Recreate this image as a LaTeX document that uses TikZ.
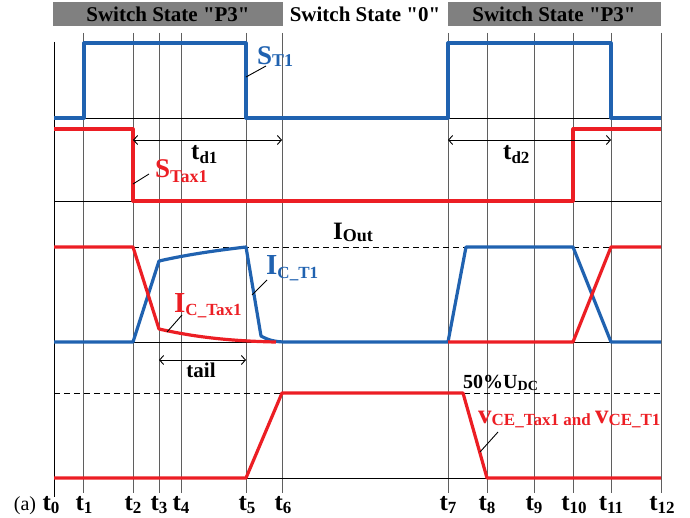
\documentclass[tikz,border=0pt]{standalone}
\usepackage{fontspec}
\setmainfont{Liberation Serif}
\usetikzlibrary{arrows.meta}
\definecolor{wblue}{RGB}{32,98,176}
\definecolor{wred}{RGB}{236,30,36}
\definecolor{gridc}{RGB}{95,95,95}
\definecolor{hdr}{RGB}{128,128,128}
\newcommand\fs[1]{\fontsize{#1bp}{#1bp}\selectfont}
\newcommand\lo[3]{\raisebox{-#1bp}{\fs{#2}#3}}
\begin{document}
\begin{tikzpicture}[x=1bp,y=-1bp,
  gridln/.style={gridc, line width=0.7bp},
  baseln/.style={black, line width=0.8bp},
  wave/.style={line width=3.2bp, line join=round},
  lab/.style={font=\bfseries, inner sep=0pt},
  lead/.style={black, line width=0.9bp},
  dimarr/.style={{Straight Barb[length=4bp,width=9bp]}-{Straight Barb[length=4bp,width=9bp]}, line width=0.9bp},
  dashln/.style={black, line width=0.9bp, dash pattern=on 6bp off 4bp},
  hdrbox/.style={fill=hdr, draw=none}]
\useasboundingbox (0,0) rectangle (690,518);
% header
\fill[hdrbox] (53,2) rectangle (283,26);
\fill[hdrbox] (448,2) rectangle (661,26);
\node[lab, anchor=base] (h1) at (168,22) {\fs{21}Switch State \textquotedbl P3\textquotedbl};
\node[lab, anchor=base] (h2) at (365,22) {\fs{21}Switch State \textquotedbl 0\textquotedbl};
\node[lab, anchor=base] (h3) at (554,22) {\fs{21}Switch State \textquotedbl P3\textquotedbl};
% grid lines
\foreach \x in {83,133,159,181,246,282,448,487,534,573,611,661}
  \draw[gridln] (\x,33) -- (\x,493);
\draw[black, line width=1bp] (54,42) -- (54,497);
% baselines
\foreach \y in {118,201,342,478}
  \draw[baseln] (54,\y) -- (661,\y);
% dashed references
\draw[dashln] (133,247) -- (611,247);
\draw[dashln] (54,393) -- (661,393);
% S_T1
\draw[wave, wblue] (54,118) -- (84,118) -- (84,43) -- (246,43) -- (246,118) -- (448,118) -- (448,43) -- (611,43) -- (611,118) -- (661,118);
% S_Tax1
\draw[wave, wred] (54,129) -- (133,129) -- (133,201) -- (573,201) -- (573,129) -- (661,129);
% I_C_T1
\draw[wave, wblue] (54,342) -- (133,342) -- (159,261) .. controls (190,254) and (220,250) .. (246,247) -- (261,336) .. controls (268,340) and (275,342) .. (286,342) -- (448,342) -- (466,247) -- (573,247) -- (611,342) -- (661,342);
% I_C_Tax1
\draw[wave, wred] (54,247) -- (133,247) -- (159,329) .. controls (190,336) and (225,341) .. (276,342);
\draw[wave, wred] (448,342) -- (573,342) -- (611,247) -- (661,247);
% v_CE
\draw[wave, wred] (54,478) -- (246,478) -- (282,393) -- (463,393) -- (487,478) -- (661,478);
% dimension arrows
\coordinate (d1a) at (133,140); \coordinate (d1b) at (282,140);
\coordinate (d2a) at (448,140); \coordinate (d2b) at (611,140);
\coordinate (tla) at (159,360); \coordinate (tlb) at (246,360);
\draw[dimarr] (d1a) -- (d1b);
\draw[dimarr] (d2a) -- (d2b);
\draw[dimarr] (tla) -- (tlb);
\node[lab, anchor=base west] (td1) at (191,160) {\fs{25}t\lo{4}{17}{d1}};
\node[lab, anchor=base west] (td2) at (503,160) {\fs{25}t\lo{4}{17}{d2}};
\node[lab, anchor=base] (tail) at (201,377) {\fs{21}tail};
% labels
\node[lab, wblue, anchor=base west] (st1) at (257,65) {\fs{27}S\lo{2}{18}{T1}};
\coordinate (st1p) at (246,77); \coordinate (st1q) at (266,66);
\draw[lead] (st1p) -- (st1q);
\node[lab, wred, anchor=base west] (stax) at (155,178) {\fs{27}S\lo{5}{18}{Tax1}};
\coordinate (staxp) at (133,184); \coordinate (staxq) at (149,174);
\draw[lead] (staxp) -- (staxq);
\node[lab, anchor=base west] (iout) at (333,240) {\fs{25}I\lo{2}{18}{Out}};
\node[lab, wblue, anchor=base west] (ict1) at (266,275) {\fs{29}I\lo{3}{17}{C\_T1}};
\coordinate (ict1p) at (252,295); \coordinate (ict1q) at (267,280);
\draw[lead] (ict1p) -- (ict1q);
\node[lab, wred, anchor=base west] (ictax) at (174,312) {\fs{29}I\lo{3}{17}{C\_Tax1}};
\coordinate (ictaxp) at (167,332); \coordinate (ictaxq) at (182,315);
\draw[lead] (ictaxp) -- (ictaxq);
\node[lab, anchor=base west] (udc) at (463,388) {\fs{20}50\%U\lo{2}{14}{DC}};
\node[lab, wred, anchor=base west] (vce) at (478,423) {\fs{27}v\lo{2}{17}{CE\_Tax1 and }\fs{27}v\lo{2}{17}{CE\_T1}};
\coordinate (vcep) at (480,452); \coordinate (vceq) at (498,432);
\draw[lead] (vcep) -- (vceq);
% time axis labels
\foreach \n/\x in {0/51,1/84,2/133,3/159,4/181,5/247,6/283,7/448,8/487,9/534,10/574,11/611,12/662}
  \node[lab, anchor=base] (tl\n) at (\x,510) {\fs{25}t\lo{3}{17}{\n}};
\node[inner sep=0pt, anchor=base] (lbla) at (25,510) {\fs{20}(a)};
\end{tikzpicture}
\end{document}
